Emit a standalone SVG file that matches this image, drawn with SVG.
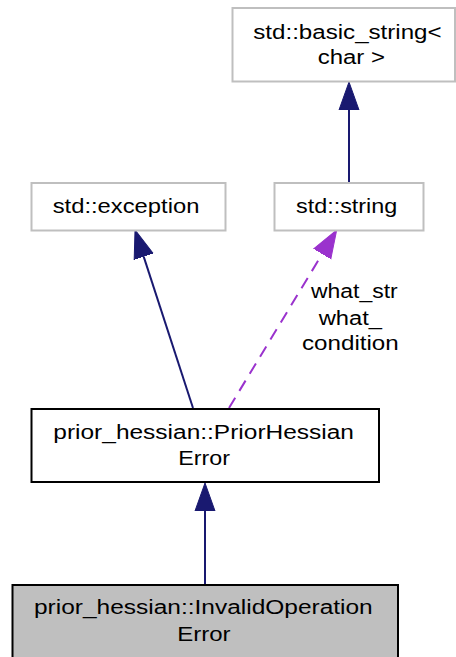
<svg xmlns="http://www.w3.org/2000/svg" width="456" height="657" viewBox="0 0 456 657">
<style>
  text { font-family: "Liberation Sans", Arial, Helvetica, sans-serif; font-size: 20px; fill: #000; }
  .gray { fill: #ffffff; stroke: #bfbfbf; stroke-width: 2; }
  .black { fill: #ffffff; stroke: #000000; stroke-width: 2; }
  .cur { fill: #bfbfbf; stroke: #000000; stroke-width: 2; }
  .inh { fill: none; stroke: #191970; stroke-width: 2; marker-end: url(#arrNavy); }
  .use { fill: none; stroke: #9a32cd; stroke-width: 2; stroke-dasharray: 12,8; marker-end: url(#arrPurple); }
</style>
<defs>
  <marker id="arrNavy" markerUnits="userSpaceOnUse" viewBox="0 -11 30 22" refX="0" refY="0" markerWidth="30" markerHeight="22" orient="auto">
    <path d="M0,-10 L28,0 L0,10 Z" fill="#191970" stroke="#191970" stroke-width="1"/>
  </marker>
  <marker id="arrPurple" markerUnits="userSpaceOnUse" viewBox="0 -11 30 22" refX="0" refY="0" markerWidth="30" markerHeight="22" orient="auto">
    <path d="M0,-10 L28,0 L0,10 Z" fill="#9a32cd" stroke="#9a32cd" stroke-width="1"/>
  </marker>
</defs>
<rect width="456" height="657" fill="#ffffff"/>
<g id="connectors">
  <line class="inh" x1="349" y1="183" x2="349" y2="110"/>
  <line class="inh" x1="193" y1="408" x2="143.7" y2="256.6"/>
  <line class="use" x1="229" y1="408" x2="322.2" y2="254"/>
  <line class="inh" x1="205" y1="584" x2="205" y2="511"/>
  <g id="edge-label">
    <text x="311" y="298" textLength="86.7" lengthAdjust="spacingAndGlyphs">what_str</text>
    <text x="318.7" y="325" textLength="63.3" lengthAdjust="spacingAndGlyphs">what_</text>
    <text x="302" y="350" textLength="96.7" lengthAdjust="spacingAndGlyphs">condition</text>
  </g>
</g>
<g id="node-basic-string">
  <rect class="gray" x="232.5" y="8" width="222.5" height="73.5"/>
  <text x="253.3" y="38.5" textLength="188.3" lengthAdjust="spacingAndGlyphs">std::basic_string&lt;</text>
  <text x="317.7" y="63.5" textLength="67.3" lengthAdjust="spacingAndGlyphs">char &gt;</text>
</g>
<g id="node-exception">
  <rect class="gray" x="31.5" y="183" width="194" height="47.5"/>
  <text x="52.7" y="212.5" textLength="146.7" lengthAdjust="spacingAndGlyphs">std::exception</text>
</g>
<g id="node-string">
  <rect class="gray" x="274.5" y="183" width="149" height="47.5"/>
  <text x="296" y="212.5" textLength="101.3" lengthAdjust="spacingAndGlyphs">std::string</text>
</g>
<g id="node-prior-hessian-error">
  <rect class="black" x="31.5" y="409" width="347.5" height="73"/>
  <text x="53.3" y="438.5" textLength="300.7" lengthAdjust="spacingAndGlyphs">prior_hessian::PriorHessian</text>
  <text x="178.3" y="464.5" textLength="51.7" lengthAdjust="spacingAndGlyphs">Error</text>
</g>
<g id="node-invalid-operation-error">
  <rect class="cur" x="12.5" y="585" width="385.5" height="74"/>
  <text x="34" y="613.5" textLength="338.7" lengthAdjust="spacingAndGlyphs">prior_hessian::InvalidOperation</text>
  <text x="177.3" y="640.5" textLength="53.3" lengthAdjust="spacingAndGlyphs">Error</text>
</g>
</svg>
